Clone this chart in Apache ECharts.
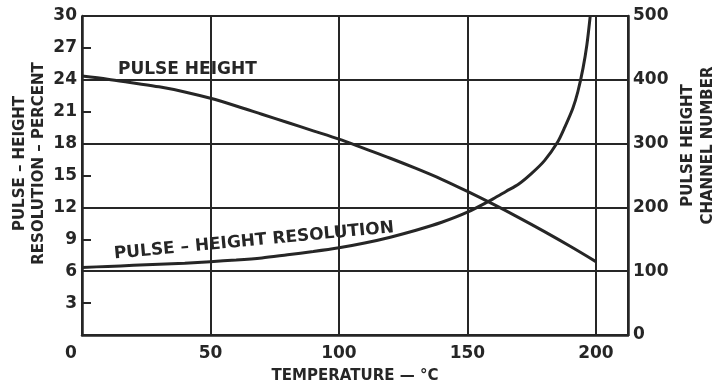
<!DOCTYPE html>
<html><head><meta charset="utf-8">
<script src="https://cdn.jsdelivr.net/npm/echarts@6/dist/echarts.min.js"></script>
<style>html,body{margin:0;padding:0;background:#fff}#c{width:713px;height:385px}</style>
</head><body><div id="c"></div>
<script>
// Temperature (°C) for the resolution curve and its values (percent, left axis)
const resTemp = [0, 10, 20, 30, 40, 50, 60, 70, 80, 90, 100, 110, 120, 130, 140, 150, 160, 165, 170, 175, 180, 185, 188, 191, 193, 195, 196.5, 197.8];
const resValues = [6.35, 6.45, 6.55, 6.65, 6.75, 6.9, 7.05, 7.25, 7.55, 7.85, 8.2, 8.65, 9.2, 9.85, 10.6, 11.55, 12.8, 13.5, 14.2, 15.2, 16.4, 18.1, 19.6, 21.3, 22.9, 25.1, 27.3, 30];
// Temperature (°C) for the pulse height curve and its values (channel number, right axis)
const phTemp = [0, 10, 20, 30, 40, 50, 60, 70, 80, 90, 100, 110, 120, 130, 140, 150, 160, 170, 180, 190, 200];
const phValues = [406, 401, 395, 389, 381, 371, 359, 346, 333, 320, 307, 292, 277, 261, 244, 225, 205, 184, 162, 139, 115];
// Axis titles and curve labels
const xTitle = 'TEMPERATURE — °C';
const leftTitle = 'PULSE – HEIGHT\nRESOLUTION – PERCENT';
const rightTitle = 'PULSE HEIGHT\nCHANNEL NUMBER';
const phLabel = 'PULSE HEIGHT';
const resLabel = 'PULSE – HEIGHT RESOLUTION';

const ink = '#262626';
const font = 'DejaVu Sans';
const chart = echarts.init(document.getElementById('c'), null, {renderer: 'canvas'});
const txt = (size) => ({fontFamily: font, fontWeight: 'bold', fontSize: size, color: ink});

chart.setOption({
  animation: false,
  backgroundColor: '#fff',
  grid: {left: 82, right: 85, top: 16, bottom: 50, containLabel: false, outerBoundsMode: 'none'},
  xAxis: {
    type: 'value', min: 0, max: 212.5, interval: 50,
    name: xTitle, nameLocation: 'middle', nameGap: 34,
    nameTextStyle: txt(15),
    axisLine: {lineStyle: {color: ink, width: 2.5}},
    axisTick: {show: false},
    axisLabel: Object.assign(txt(17), {
      margin: 10, showMaxLabel: false,
      formatter: v => v === 0 ? '{z|0}' : (v % 50 === 0 ? String(v) : ''),
      rich: {z: Object.assign(txt(17), {padding: [0, 22, 0, 0]})}
    }),
    splitLine: {show: true, lineStyle: {color: ink, width: 2}}
  },
  yAxis: [
    {
      type: 'value', position: 'left', min: 0, max: 30, interval: 3,
      name: leftTitle, nameLocation: 'middle', nameGap: 33, nameMoveOverlap: false,
      nameTextStyle: Object.assign(txt(15), {lineHeight: 19, padding: [0, 0, 0, 24]}),
      axisLine: {show: true, lineStyle: {color: ink, width: 2.5}},
      axisTick: {show: true, inside: true, length: 9, lineStyle: {color: ink, width: 2}},
      axisLabel: Object.assign(txt(17), {margin: 5, showMinLabel: false}),
      splitLine: {show: false}
    },
    {
      type: 'value', position: 'right', min: 0, max: 500, interval: 100,
      name: rightTitle, nameLocation: 'middle', nameGap: 50, nameMoveOverlap: false,
      nameTextStyle: Object.assign(txt(15), {lineHeight: 20, padding: [0, 0, 0, 60]}),
      axisLine: {show: true, lineStyle: {color: ink, width: 2.5}},
      axisTick: {show: false},
      axisLabel: Object.assign(txt(17), {margin: 5}),
      splitLine: {show: true, lineStyle: {color: ink, width: 2}}
    }
  ],
  series: [
    {
      name: resLabel, type: 'line', yAxisIndex: 0,
      data: resTemp.map((t, i) => [t, resValues[i]]),
      showSymbol: false, smooth: 0.3,
      lineStyle: {color: ink, width: 3}, clip: true
    },
    {
      name: phLabel, type: 'line', yAxisIndex: 1,
      data: phTemp.map((t, i) => [t, phValues[i]]),
      showSymbol: false, smooth: 0.3,
      lineStyle: {color: ink, width: 3}
    }
  ],
  graphic: [
    {type: 'text', left: 118, top: 61, style: {text: phLabel, font: 'bold 17px "DejaVu Sans"', fill: ink}},
    {type: 'text', x: 254, y: 241, rotation: 0.094,
     style: {text: resLabel, font: 'bold 17px "DejaVu Sans"', fill: ink, align: 'center', verticalAlign: 'middle'}}
  ]
});
</script></body></html>
